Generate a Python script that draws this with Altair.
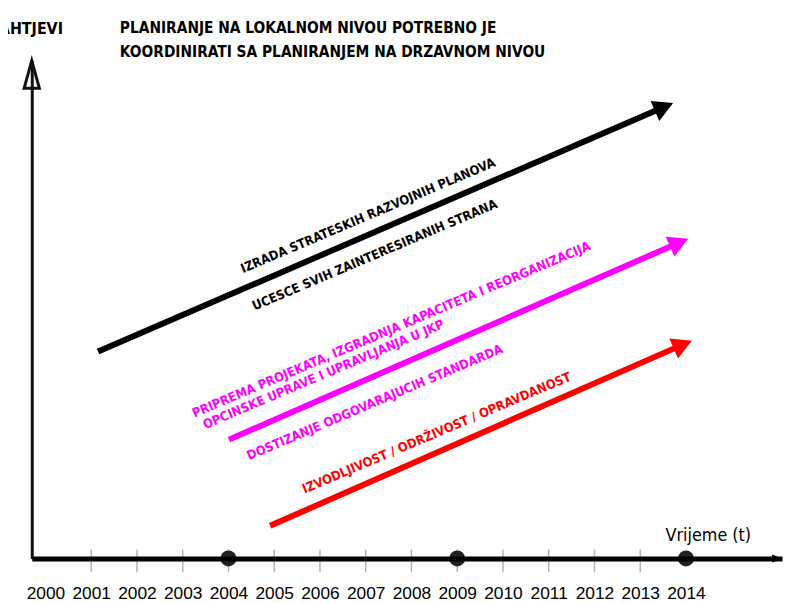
import altair as alt
import pandas as pd

# ---- data ----
years = list(range(2000, 2015))
tick_years = [2001, 2002, 2003, 2004, 2005, 2006, 2007, 2008, 2009, 2010, 2011, 2012, 2013]
milestone_years = [2004, 2009, 2014]

series = ["strategija", "kapaciteti", "odrzivost"]
series_colors = ["#000000", "#ff00ff", "#ff0000"]
x_start = [2001.15, 2004.01, 2004.91]
y_start = [41.55, 23.86, 6.56]
x_end = [2013.52, 2013.85, 2013.93]
y_end = [90.66, 63.42, 42.94]

label_texts = [
    "IZRADA STRATESKIH RAZVOJNIH PLANOVA",
    "UCESCE SVIH ZAINTERESIRANIH STRANA",
    "PRIPREMA PROJEKATA, IZGRADNJA KAPACITETA I REORGANIZACIJA",
    "OPCINSKE UPRAVE I UPRAVLJANJA U JKP",
    "DOSTIZANJE ODGOVARAJUCIH STANDARDA",
    "IZVODLJIVOST / ODRŽIVOST / OPRAVDANOST",
]
label_series = ["strategija", "strategija", "kapaciteti", "kapaciteti", "kapaciteti", "odrzivost"]
label_x = [2007.05, 2007.20, 2007.56, 2006.08, 2007.20, 2008.55]
label_y = [68.8, 60.9, 45.9, 36.9, 31.3, 25.15]

title_lines = [
    "PLANIRANJE NA LOKALNOM NIVOU POTREBNO JE",
    "KOORDINIRATI SA PLANIRANJEM NA DRZAVNOM NIVOU",
]
y_title = "ZAHTJEVI"
x_title = "Vrijeme (t)"

# ---- tables ----
lines_df = pd.DataFrame({
    "series": series + series,
    "order": [0] * 3 + [1] * 3,
    "x": x_start + x_end,
    "y": y_start + y_end,
})
heads_df = pd.DataFrame({"series": series, "x": x_end, "y": y_end})
labels_df = pd.DataFrame({"text": label_texts, "series": label_series, "x": label_x, "y": label_y})
ticks_df = pd.DataFrame({"x": tick_years})
dots_df = pd.DataFrame({"x": milestone_years})

FONT = "DejaVu Sans Condensed, DejaVu Sans, sans-serif"
LABEL_FONT = "Liberation Sans, Arial, sans-serif"
W, H = 758, 503

xscale = alt.Scale(domain=[1999.7, 2016.1], nice=False, zero=False)
yscale = alt.Scale(domain=[0, 100], nice=False, zero=False)
cscale = alt.Scale(domain=series, range=series_colors)

x_axis = alt.Axis(
    values=years, format="d", ticks=False, grid=False,
    domainColor="#000000", domainWidth=5, zindex=1,
    labelFont=LABEL_FONT, labelFontSize=17.5, labelColor="#000000",
    labelBaseline="alphabetic", labelPadding=40, labelFlush=False, labelOverlap=False,
    title=x_title, titleFont=FONT, titleFontSize=18, titleFontWeight="normal",
    titleColor="#000000", titleX=683, titleY=-18, titleAlign="center",
    titleBaseline="alphabetic", titleAngle=0,
)
y_axis = alt.Axis(
    ticks=False, labels=False, grid=False,
    domainColor="#111111", domainWidth=3,
    title=y_title, titleFont=FONT, titleFontSize=16, titleFontWeight="bold",
    titleColor="#000000", titleX=31, titleY=-27, titleAlign="right",
    titleBaseline="alphabetic", titleAngle=0,
)

tick_layer = alt.Chart(ticks_df).mark_rule(color="#b4b4b4", strokeWidth=1.5).encode(
    x=alt.X("x:Q", scale=xscale),
    y=alt.value(H - 9), y2=alt.value(H + 14),
)

dot_layer = alt.Chart(dots_df).mark_point(
    shape="circle", filled=True, size=260, color="#222222", opacity=1
).encode(
    x=alt.X("x:Q", scale=xscale),
    y=alt.value(H),
)

line_layer = alt.Chart(lines_df).mark_line(strokeWidth=6, strokeCap="butt").encode(
    x=alt.X("x:Q", scale=xscale, axis=x_axis),
    y=alt.Y("y:Q", scale=yscale, axis=y_axis),
    color=alt.Color("series:N", scale=cscale, legend=None),
    order="order:Q",
)

head_layer = alt.Chart(heads_df).mark_point(
    shape="M1,0L-1,-1.1L-1,1.1Z", filled=True, size=400, angle=336.5,
    opacity=1, strokeWidth=0,
).encode(
    x=alt.X("x:Q", scale=xscale, axis=x_axis),
    y=alt.Y("y:Q", scale=yscale, axis=y_axis),
    color=alt.Color("series:N", scale=cscale, legend=None),
)

text_layer = alt.Chart(labels_df).mark_text(
    font=FONT, fontSize=13, fontWeight="bold", angle=337,
    align="center", baseline="middle",
).encode(
    x=alt.X("x:Q", scale=xscale, axis=x_axis),
    y=alt.Y("y:Q", scale=yscale, axis=y_axis),
    text="text:N",
    color=alt.Color("series:N", scale=cscale, legend=None),
)

yarrow = alt.Chart(pd.DataFrame({"k": [0]})).mark_point(
    shape="M0,0L-0.55,2L0.55,2Z", filled=False, size=784,
    color="#111111", strokeWidth=3, opacity=1,
).encode(x=alt.value(0), y=alt.value(0))

xarrow = alt.Chart(pd.DataFrame({"k": [0]})).mark_point(
    shape="M0,0L-2,-0.8L-2,0.8Z", filled=True, size=100,
    color="#000000", opacity=1,
).encode(x=alt.value(W), y=alt.value(H))

chart = alt.layer(
    line_layer, tick_layer, head_layer, text_layer, dot_layer, yarrow, xarrow
).properties(
    width=W, height=H,
    padding={"left": 24, "top": 50, "right": 5, "bottom": 46},
    autosize=alt.AutoSizeParams(type="none"),
    background="#ffffff",
    title=alt.TitleParams(
        text=title_lines, anchor="start", frame="group", dx=89, offset=-40,
        font=FONT, fontSize=15.5, fontWeight="bold", color="#000000", lineHeight=24.5,
    ),
).configure_view(stroke=None)

chart.save("out.html", embed_options={"renderer": "svg", "actions": False})
